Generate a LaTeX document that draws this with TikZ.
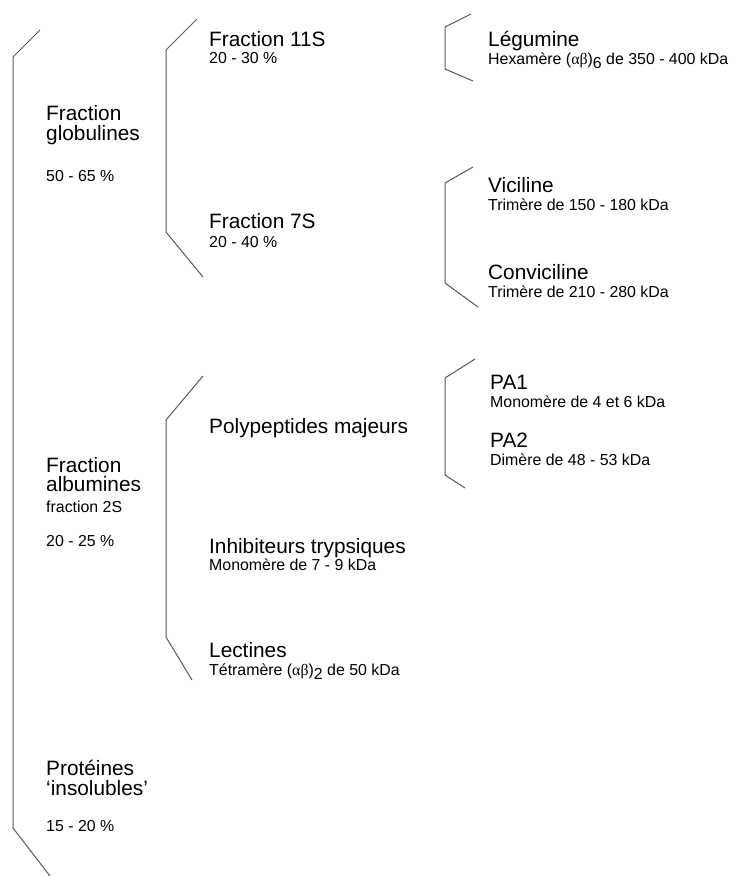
\documentclass[tikz,border=0pt]{standalone}
\usepackage{fontspec}
\setmainfont{Liberation Sans}
\newfontfamily\grk{Liberation Serif}
\newcommand{\ab}{{\grk αβ}}
\newcommand{\subsc}[1]{\raisebox{-0.28em}{#1}}
\begin{document}
\begin{tikzpicture}[x=1pt,y=-1pt,
  big/.style={font=\fontsize{20.8}{22}\selectfont, anchor=base west, inner sep=0pt},
  small/.style={font=\fontsize{15.9}{17}\selectfont, anchor=base west, inner sep=0pt},
  brk/.style={draw=black!65, line width=1pt}]
\useasboundingbox (0,0) rectangle (732,876);

% brackets
\draw[brk] (40,30) -- (13,57) -- (13,828) -- (50,876);
\draw[brk] (197,19) -- (166,50) -- (166,232) -- (203,277);
\draw[brk] (471,14) -- (445,27) -- (445,69) -- (473,81);
\draw[brk] (473,167) -- (445,183) -- (445,283) -- (478,307);
\draw[brk] (475,359) -- (445,378) -- (445,475) -- (465,488);
\draw[brk] (203,376) -- (166,420) -- (166,637) -- (192,680);

% level 1
\node[big] (glob1) at (46,120) {Fraction};
\node[big] (glob2) at (46,140) {globulines};
\node[small] (globp) at (46,181) {50 - 65 \%};

\node[big] (alb1) at (46,472) {Fraction};
\node[big] (alb2) at (46,491) {albumines};
\node[small] (alb3) at (46,512) {fraction 2S};
\node[small] (albp) at (46,546) {20 - 25 \%};

\node[big] (ins1) at (46,775) {Protéines};
\node[big] (ins2) at (46,795) {‘insolubles’};
\node[small] (insp) at (46,831) {15 - 20 \%};

% level 2
\node[big] (f11) at (209,46) {Fraction 11S};
\node[small] (f11p) at (209,63) {20 - 30 \%};
\node[big] (f7) at (209,228) {Fraction 7S};
\node[small] (f7p) at (209,247) {20 - 40 \%};

\node[big] (poly) at (209,433) {Polypeptides majeurs};
\node[big] (inh) at (209,553) {Inhibiteurs trypsiques};
\node[small] (inhd) at (209,570) {Monomère de 7 - 9 kDa};
\node[big] (lec) at (209,657) {Lectines};
\node[small] (lecd) at (209,675) {Tétramère (\ab)\subsc{2} de 50 kDa};

% level 3
\node[big] (leg) at (488,46) {Légumine};
\node[small] (legd) at (488,64) {Hexamère (\ab)\subsc{6} de 350 - 400 kDa};
\node[big] (vic) at (488,192) {Viciline};
\node[small] (vicd) at (488,210) {Trimère de 150 - 180 kDa};
\node[big] (con) at (488,279) {Conviciline};
\node[small] (cond) at (488,297) {Trimère de 210 - 280 kDa};

\node[big] (pa1) at (490,389) {PA1};
\node[small] (pa1d) at (490,407) {Monomère de 4 et 6 kDa};
\node[big] (pa2) at (490,447) {PA2};
\node[small] (pa2d) at (490,465) {Dimère de 48 - 53 kDa};
\end{tikzpicture}
\end{document}
